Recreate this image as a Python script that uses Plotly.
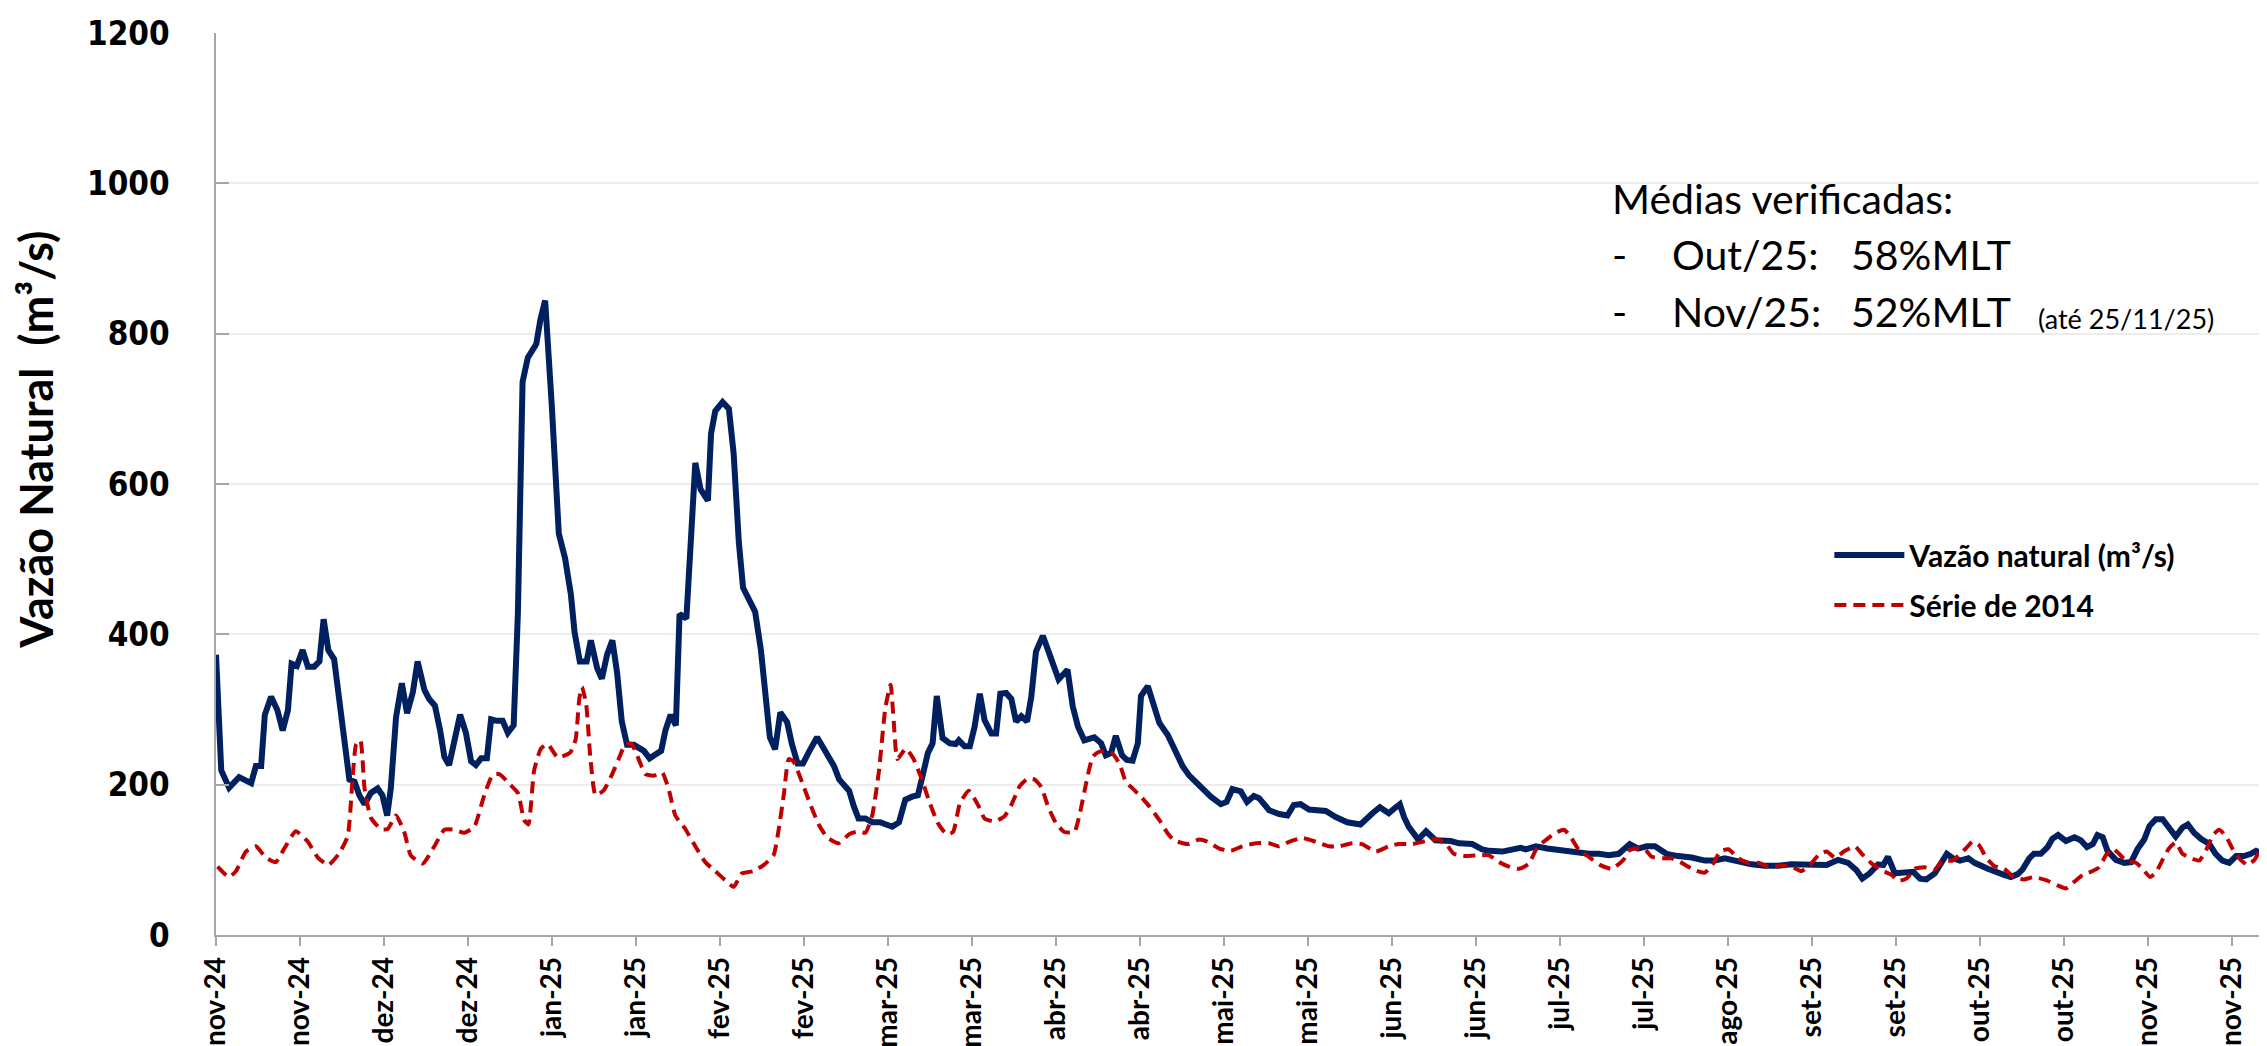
import pandas as pd
import plotly.graph_objects as go

# ---------------- data ----------------
inicio = "2024-11-01"   # day 0 of the series

# Vazão natural (m³/s): day offset from inicio -> value
dias_vazao = [
    0, 1, 2.5, 4.4, 6.7, 7.6, 8.6, 9.3, 10.5, 11.7,
    12.7, 13.7, 14.4, 15.4, 16.5, 17.5, 18.7, 19.7, 20.5, 21.4,
    22.5, 23.5, 24.5, 25.4, 26.4, 27.3, 28.3, 29.5, 30.8, 31.7,
    32.6, 33.3, 34.3, 35.4, 36.4, 37.5, 38.4, 39.7, 40.6, 41.7,
    42.7, 43.5, 44.4, 45.5, 46.5, 47.6, 48.6, 49.5, 50.5, 51.6,
    52.4, 53.5, 54.6, 55.6, 56.7, 57.5, 58.4, 59.4, 61, 61.8,
    62.7, 64, 65.3, 66.5, 67.6, 68.3, 69.3, 70.6, 71.4, 72.6,
    73.5, 74.5, 75.5, 76.4, 77.3, 78.3, 79.6, 81.5, 82.6, 83.7,
    84.8, 85.6, 86.6, 87.6, 88.3, 89.6, 90.4, 91.3, 92.3, 93.7,
    94.3, 95.1, 96.5, 97.7, 98.6, 99.6, 100.4, 101.5, 102.7, 103.8,
    104.6, 105.5, 106.5, 107.5, 108.8, 109.7, 110.8, 111.8, 112.9, 114.5,
    116.1, 117.7, 118.7, 120.6, 121.5, 122.4, 123.7, 125, 126.5, 128.8,
    130.1, 131.3, 132.6, 133.7, 134.6, 135.6, 136.5, 137.3, 138.4, 139.8,
    140.9, 141.5, 142.6, 143.6, 144.5, 145.5, 146.4, 147.7, 148.6, 149.4,
    150.5, 151.5, 152.4, 153.4, 154.5, 155.3, 156.2, 157.5, 158.8, 160.5,
    162.2, 163.2, 164.2, 165.4, 167.3, 168.6, 169.5, 170.5, 171.4, 172.6,
    173.5, 174.6, 175.6, 176.2, 177.5, 178.5, 179.7, 181.3, 182.5, 184.1,
    185.4, 186.6, 187.9, 189.5, 191.4, 192.5, 193.6, 195.2, 196.4, 197.7,
    198.7, 200.6, 202.5, 204.1, 205.3, 206.6, 208.2, 209.5, 211.4, 213.3,
    215.5, 218, 219.3, 220.3, 221.7, 223.4, 224.4, 225.5, 226.3, 227.2,
    229, 230.5, 232.3, 235.2, 236.8, 239.3, 241.2, 242.5, 245, 246.3,
    248.5, 249.5, 251.4, 253.6, 255.8, 257.7, 259.7, 261.5, 263.4, 265.3,
    267.2, 269.3, 270.9, 272.5, 274.1, 276.3, 278.5, 281.1, 283.6, 285.5,
    287.4, 290, 292.5, 295, 297.6, 300.1, 302.7, 305.2, 306.8, 309,
    310.9, 312.5, 313.6, 315, 316.6, 317.6, 318.5, 319.8, 321.7, 323.3,
    324.6, 325.8, 327.4, 328.7, 329.7, 330.9, 332.2, 333.8, 335, 337.5,
    339, 340.6, 341.9, 343.2, 344.1, 345.4, 346.3, 347.6, 348.9, 349.8,
    350.9, 352.4, 354, 355.2, 356.4, 357.5, 358.4, 359.4, 360.3, 361.9,
    363.5, 364.8, 366, 367.3, 368.3, 369.5, 370.8, 372, 373.3, 374.6,
    375.6, 376.8, 378.1, 379.7, 380.9, 382.2, 383.5, 384.8, 386.3, 387.6,
    388.6, 389.8,
]
vazao = [
    373, 219, 196, 210, 202, 225, 225, 293, 317, 299,
    272, 299, 361, 358, 379, 357, 357, 364, 420, 379,
    367, 308, 248, 207, 204, 186, 174, 189, 195, 186,
    159, 195, 290, 335, 295, 323, 364, 326, 314, 305,
    272, 237, 226, 266, 293, 269, 231, 226, 235, 235,
    287, 285, 285, 269, 279, 427, 736, 768, 786, 819,
    844, 700, 534, 501, 453, 403, 364, 364, 392, 355,
    341, 373, 392, 349, 284, 253, 253, 245, 235, 240,
    245, 272, 293, 279, 427, 421, 507, 628, 593, 578,
    667, 697, 709, 700, 641, 522, 462, 445, 430, 379,
    317, 263, 247, 296, 283, 254, 228, 228, 243, 263,
    244, 225, 207, 192, 171, 155, 155, 150, 150, 144,
    150, 180, 184, 186, 212, 242, 255, 318, 262, 255,
    254, 259, 251, 251, 277, 321, 286, 268, 268, 321,
    322, 314, 284, 291, 284, 317, 377, 398, 373, 340,
    353, 304, 277, 259, 263, 255, 239, 242, 265, 239,
    233, 232, 255, 318, 331, 306, 282, 266, 248, 225,
    212, 204, 193, 184, 174, 177, 194, 191, 177, 185,
    182, 166, 161, 159, 173, 174, 167, 166, 165, 157,
    150, 147, 157, 162, 170, 162, 168, 174, 157, 144,
    127, 138, 126, 125, 122, 121, 114, 112, 111, 113,
    116, 114, 118, 115, 113, 111, 108, 108, 108, 106,
    108, 121, 115, 118, 118, 108, 105, 103, 99, 99,
    102, 97, 94, 92, 92, 94, 94, 93, 93, 100,
    96, 86, 75, 82, 94, 93, 104, 82, 83, 84,
    75, 74, 82, 95, 108, 102, 99, 102, 96, 88,
    85, 80, 77, 81, 87, 102, 108, 108, 117, 128,
    133, 125, 130, 126, 117, 121, 133, 130, 112, 100,
    96, 97, 114, 127, 145, 154, 154, 142, 131, 143,
    147, 136, 128, 121, 108, 99, 96, 105, 105, 108,
    112, 108,
]

# Série de 2014: day offset from inicio -> value
dias_2014 = [
    0.3, 2.5, 3.8, 5.7, 7.6, 9.5, 11.4, 13, 15.2, 17.5,
    19.4, 21.4, 23.5, 25.1, 26, 26.7, 27.5, 28.3, 29.5, 31.4,
    32.7, 34.3, 35.9, 37.1, 39.4, 41.6, 43.5, 45.4, 47.3, 49.2,
    51.1, 52.7, 54, 55.9, 57.5, 58.7, 59.5, 60.6, 61.9, 63.2,
    65.1, 67.5, 68.5, 69.2, 69.7, 70.5, 71.3, 72.3, 73.8, 75.4,
    76.7, 78, 79.2, 80.5, 81.8, 83.4, 85, 86.3, 87.5, 89.4,
    91.3, 93.2, 95.1, 97, 98.6, 100.2, 102.4, 104.3, 106.2, 107.2,
    108.2, 109.1, 110, 111.6, 113.2, 114.8, 116.4, 118.6, 120.6, 122.4,
    123.7, 125, 126.3, 127.5, 128.5, 129.1, 129.8, 131.4, 132.8, 134.4,
    136, 137.5, 139.2, 140.4, 141.7, 143.4, 145.3, 146.4, 148.3, 150.2,
    151.5, 153.1, 154.6, 155.9, 157.2, 158.5, 160, 161.6, 163.5, 164.5,
    165.7, 167, 168.3, 170.5, 172.1, 173.3, 174.6, 176.2, 177.8, 179.7,
    181.3, 182.5, 185.1, 187.3, 188.9, 191.1, 193.3, 195.5, 198.1, 200.6,
    202.5, 204.4, 207, 209.5, 212, 213.9, 216.4, 218.3, 220.9, 223.4,
    225.3, 227.9, 229.8, 232.3, 234.2, 235.8, 238, 240.6, 242.5, 244.4,
    246.3, 248.2, 250.1, 251.4, 252.9, 255.2, 256.8, 258, 259.6, 261.5,
    263.7, 265.9, 268.1, 269.3, 270.6, 272.2, 273.5, 275.7, 277.3, 279.2,
    281.4, 283.6, 285.2, 286.5, 288.1, 290, 291.9, 293.8, 295.7, 298.2,
    300.1, 302, 303.6, 305.5, 306.8, 308.4, 310.3, 312.2, 313.5, 315.4,
    317.3, 319.2, 320.4, 322, 323.6, 325.5, 327.4, 328.9, 330.8, 333.3,
    334.6, 335.9, 337.1, 338.7, 340.6, 342.5, 344.4, 346.3, 348.6, 350.8,
    352.4, 354, 355.6, 357.1, 358.7, 360, 361.3, 362.5, 363.8, 365.7,
    367, 368.4, 369.5, 370.8, 372, 373.3, 374.6, 376.2, 377.8, 379.1,
    380.4, 381.6, 382.9, 384.1, 385.4, 387, 388.3, 389.2, 390.2,
]
serie_2014 = [
    91, 77, 85, 111, 118, 103, 97, 115, 138, 124,
    103, 93, 109, 132, 207, 254, 259, 195, 156, 141,
    141, 159, 136, 106, 95, 118, 140, 140, 136, 144,
    186, 213, 214, 201, 189, 153, 147, 219, 248, 254,
    236, 243, 260, 314, 330, 308, 237, 186, 192, 213,
    234, 254, 254, 234, 214, 212, 216, 192, 159, 141,
    118, 97, 85, 73, 64, 82, 85, 93, 106, 141,
    189, 234, 231, 204, 174, 147, 130, 122, 134, 138,
    136, 159, 219, 302, 333, 284, 234, 248, 235, 208,
    175, 149, 134, 137, 175, 192, 171, 155, 151, 158,
    173, 198, 208, 207, 197, 171, 149, 137, 137, 160,
    200, 237, 244, 243, 228, 204, 195, 184, 171, 153,
    135, 126, 121, 127, 124, 115, 112, 118, 122, 122,
    118, 124, 129, 124, 118, 118, 122, 121, 111, 118,
    121, 121, 124, 128, 122, 108, 105, 106, 106, 97,
    91, 88, 95, 113, 124, 136, 140, 131, 113, 104,
    93, 88, 100, 113, 115, 114, 104, 102, 102, 96,
    87, 83, 95, 111, 114, 102, 96, 96, 91, 92,
    91, 85, 93, 108, 111, 103, 112, 118, 108, 95,
    86, 80, 72, 75, 88, 90, 87, 99, 99, 115,
    124, 119, 104, 92, 88, 77, 74, 77, 73, 66,
    62, 71, 80, 84, 90, 106, 115, 108, 99, 96,
    88, 77, 83, 100, 115, 123, 108, 102, 99, 113,
    133, 140, 131, 115, 102, 93, 100, 111, 131,
]

# x-axis ticks (every 16 days, as in the original) and their labels
tick_datas = [
    "2024-11-01", "2024-11-17", "2024-12-03", "2024-12-19", "2025-01-04",
    "2025-01-20", "2025-02-05", "2025-02-21", "2025-03-09", "2025-03-25",
    "2025-04-10", "2025-04-26", "2025-05-12", "2025-05-28", "2025-06-13",
    "2025-06-29", "2025-07-15", "2025-07-31", "2025-08-16", "2025-09-01",
    "2025-09-17", "2025-10-03", "2025-10-19", "2025-11-04", "2025-11-20",
]
tick_rotulos = [
    "nov-24", "nov-24", "dez-24", "dez-24", "jan-25", "jan-25", "fev-25",
    "fev-25", "mar-25", "mar-25", "abr-25", "abr-25", "mai-25", "mai-25",
    "jun-25", "jun-25", "jul-25", "jul-25", "ago-25", "set-25", "set-25",
    "out-25", "out-25", "nov-25", "nov-25",
]
y_ticks = [0, 200, 400, 600, 800, 1000, 1200]

nome_vazao = "Vazão natural (m³/s)"
nome_2014 = "Série de 2014"
titulo_y = "Vazão Natural\u00a0\u00a0(m³/s)"

# ---------------- figure ----------------
t0 = pd.Timestamp(inicio)
x_vazao = t0 + pd.to_timedelta(dias_vazao, unit="D")
x_2014 = t0 + pd.to_timedelta(dias_2014, unit="D")
x_fim = t0 + pd.to_timedelta(390.5, unit="D")

fig = go.Figure()
fig.add_trace(go.Scatter(
    x=x_vazao, y=vazao, mode="lines", name=nome_vazao,
    legendgroup="a",
    line=dict(color="#002060", width=6),
))
fig.add_trace(go.Scatter(
    x=x_2014, y=serie_2014, mode="lines", name=nome_2014,
    legendgroup="b",
    line=dict(color="#C00000", width=4, dash="12px,7px",
              shape="spline", smoothing=0.5),
))

axis_grey = "#a6a6a6"
fig.update_layout(
    width=2267, height=1046,
    margin=dict(l=208, r=9, t=25, b=119, autoexpand=False),
    paper_bgcolor="white", plot_bgcolor="white",
    showlegend=True,
    legend=dict(
        x=0.787, y=0.450, xanchor="left", yanchor="top",
        bgcolor="rgba(0,0,0,0)", traceorder="grouped", tracegroupgap=8,
        itemwidth=70,
        font=dict(family="Lato", size=30, color="black", weight="bold"),
    ),
    xaxis=dict(
        type="date", range=[t0, x_fim], automargin=False,
        tickmode="array", tickvals=tick_datas, ticktext=tick_rotulos,
        tickangle=-90,
        tickfont=dict(family="Lato", size=28, color="black", weight="bold"),
        ticks="outside", ticklen=9, tickcolor=axis_grey, tickwidth=1.5,
        showline=True, linecolor=axis_grey, linewidth=1.5,
        showgrid=False, zeroline=False,
    ),
    yaxis=dict(
        range=[0, 1200], tickmode="array", tickvals=y_ticks, automargin=False,
        tickfont=dict(family="DejaVu Sans Condensed, DejaVu Sans", size=33,
                      color="black", weight="bold"),
        ticks="inside", ticklen=13, tickcolor=axis_grey, tickwidth=1.5,
        ticklabelstandoff=38,
        showline=True, linecolor=axis_grey, linewidth=1.5,
        showgrid=True, gridcolor="#ececec", gridwidth=1.5, zeroline=False,
    ),
)

# y-axis title placed as rotated text in the left margin
fig.add_annotation(text=titulo_y, x=-0.0878, y=0.549, xref="paper", yref="paper",
                   xanchor="center", yanchor="middle", textangle=-90,
                   showarrow=False,
                   font=dict(family="Lato", size=45, color="black", weight="bold"))

txt_font = dict(family="Lato", size=41, color="black")
small_font = dict(family="Lato", size=27, color="black")
def ann(text, x, y, font, yanchor="middle"):
    fig.add_annotation(text=text, x=x, y=y, xref="paper", yref="paper",
                       xanchor="left", yanchor=yanchor, showarrow=False,
                       font=font)

ann("Médias verificadas:", 0.6800, 0.8170, txt_font)
ann("-", 0.6800, 0.7539, txt_font)
ann("Out/25:", 0.7093, 0.7539, txt_font)
ann("58%MLT", 0.7966, 0.7539, txt_font)
ann("-", 0.6800, 0.6907, txt_font)
ann("Nov/25:", 0.7093, 0.6907, txt_font)
ann("52%MLT", 0.7966, 0.6907, txt_font)
ann("(até 25/11/25)", 0.8880, 0.6833, small_font)

fig.write_html("out.html")
